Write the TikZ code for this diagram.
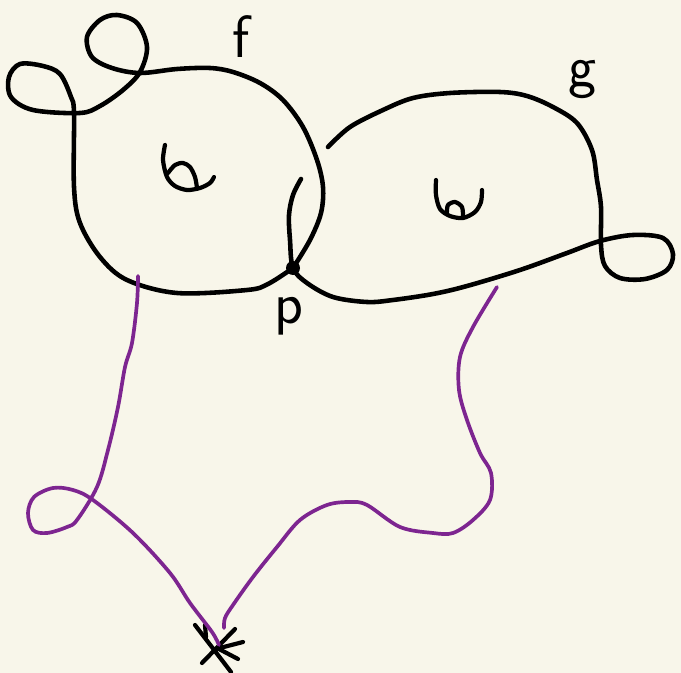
\documentclass[tikz,border=0pt]{standalone}
\usepackage{xcolor}
\usepackage{tikz}
\usetikzlibrary{calc}
\definecolor{paper}{HTML}{F8F6EA}
\definecolor{loopPurple}{HTML}{7D2590}
\tikzset{
  curve/.style={draw=black, line width=2.6pt, line cap=round, line join=round},
  glyph/.style={draw=black, line width=2.4pt, line cap=round, line join=round},
  homotopy/.style={draw=loopPurple, line width=2.1pt, line cap=round, line join=round},
  label/.style={font=\sffamily\fontsize{34}{34}\selectfont, inner sep=0pt}
}

\begin{document}
\begin{tikzpicture}[x=0.02cm, y=-0.02cm]
  \fill[paper] (0,0) rectangle (681,673);
  \useasboundingbox (0,0) rectangle (681,673);
  \coordinate (p) at (293,268);
  \coordinate (base) at (219,645);
  % loop f
  \draw[curve] plot[smooth, tension=0.55] coordinates {(p) (310,240) (321,213) (323,187) (317,160) (303,127)
    (283,100) (260,83) (233,72) (210,68) (177,69) (140,73) (112,68) (92,57) (87,37) (100,20) (117,15)
    (137,23) (147,47) (140,72) (123,90) (100,106) (80,113) (33,110) (11,97) (9,77) (20,64) (43,66)
    (60,74) (71,97) (74,113) (74,187) (80,223) (100,257) (127,280) (177,293) (247,290) (268,284) (p)};
  % loop g
  \draw[curve] plot[smooth, tension=0.55] coordinates {(301,179) (293,195) (289,215) (290,240) (p)
    (307,283) (333,297) (367,302) (393,300) (433,294) (467,286) (520,270) (567,253) (600,241)
    (633,235) (663,238) (673,254) (667,270) (645,279) (620,278) (605,266) (601,245) (601,207)
    (597,180) (592,150) (577,123) (553,107) (527,96) (500,92) (450,93) (413,98) (383,110) (350,127) (328,147)};
  \fill (p) circle (7);
  % hole glyphs
  \draw[glyph] plot[smooth] coordinates {(165,145) (163,160) (167,177) (175,186) (187,190) (200,188) (210,183) (214,177)};
  \draw[glyph] plot[smooth] coordinates {(168,173) (175,165) (183,163) (190,167) (195,177) (197,188)};
  \draw[glyph] plot[smooth] coordinates {(436,180) (436,195) (440,209) (450,216) (463,218) (475,212) (481,202) (482,190)};
  \draw[glyph] plot[smooth] coordinates {(447,212) (448,205) (455,202) (462,207) (463,217)};
  % labels
  \node[label] (fl) at (241,37) {f};
  \node[label] (gl) at (583,80) {g};
  \node[label] (pl) at (289,316) {p};
  % base point
  \draw[glyph] ($(base)+(-24,-20)$) -- ($(base)+(12,27)$);
  \draw[glyph] ($(base)+(-14,-20)$) -- ($(base)+(-13,-8)$);
  \draw[glyph] ($(base)+(-17,18)$) -- ($(base)+(16,-16)$);
  \draw[glyph] ($(base)+(-3,4)$) -- ($(base)+(24,-3)$);
  \draw[glyph] ($(base)+(0,4)$) -- ($(base)+(19,14)$);
  % purple paths
  \draw[homotopy] plot[smooth, tension=0.55] coordinates {(138,276) (137,303) (132,343) (125,367) (118,407)
    (108,450) (97,487) (77,520) (67,527) (47,533) (33,530) (28,513) (34,497) (53,488) (73,490) (93,500)
    (133,533) (170,573) (190,603) (212,632) (base)};
  \draw[homotopy] plot[smooth, tension=0.55] coordinates {(497,287) (473,327) (460,357) (459,390) (467,420)
    (480,453) (491,473) (490,500) (473,520) (453,533) (433,533) (400,527) (367,505) (350,502) (327,505)
    (300,520) (277,547) (253,577) (233,605) (225,618) (224,628)};
\end{tikzpicture}
\end{document}
